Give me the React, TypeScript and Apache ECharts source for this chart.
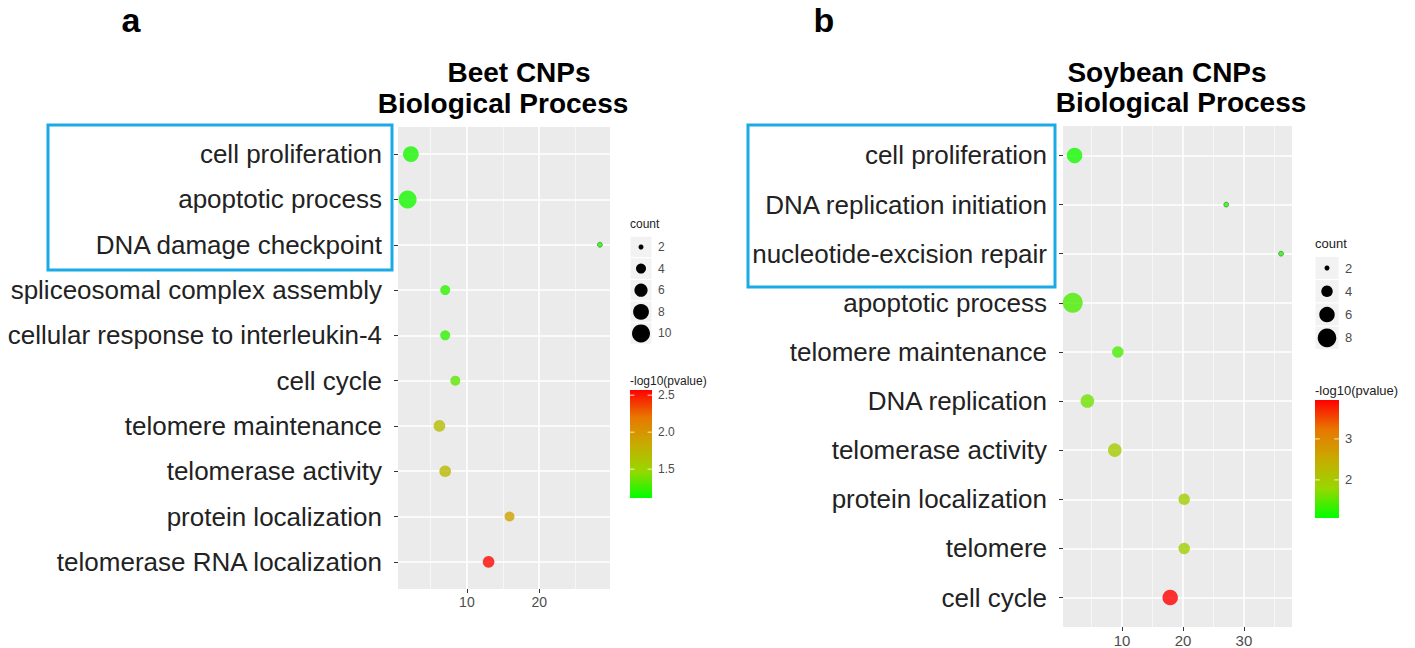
import React, { useEffect, useRef } from "react";
import * as echarts from "echarts";

// ---------- data ----------
const beetTerms = [
  "cell proliferation",
  "apoptotic process",
  "DNA damage checkpoint",
  "spliceosomal complex assembly",
  "cellular response to interleukin-4",
  "cell cycle",
  "telomere maintenance",
  "telomerase activity",
  "protein localization",
  "telomerase RNA localization",
];
const beetX = [2.25, 1.8, 28.4, 7.0, 7.0, 8.4, 6.2, 7.0, 15.9, 13.0];
const beetCount = [8, 10, 2, 4, 4, 4, 5, 5, 4, 5];
const beetLogP = [1.17, 1.16, 1.2, 1.22, 1.22, 1.33, 1.69, 1.72, 1.91, 2.55];

const soyTerms = [
  "cell proliferation",
  "DNA replication initiation",
  "nucleotide-excision repair",
  "apoptotic process",
  "telomere maintenance",
  "DNA replication",
  "telomerase activity",
  "protein localization",
  "telomere",
  "cell cycle",
];
const soyX = [2.2, 27.1, 36.1, 1.9, 9.3, 4.3, 8.8, 20.2, 20.2, 17.9];
const soyCount = [6, 2, 2, 9, 4, 5, 5, 4, 4, 6];
const soyLogP = [1.15, 1.25, 1.25, 1.42, 1.42, 1.59, 1.99, 1.93, 1.93, 3.95];

const beetXTicks = [10, 20];
const beetXMinor = [5, 15, 25];
const soyXTicks = [10, 20, 30];
const soyXMinor = [5, 15, 25, 35];

const beetCountBreaks = [2, 4, 6, 8, 10];
const soyCountBreaks = [2, 4, 6, 8];
const beetColorBreaks = [1.5, 2.0, 2.5];
const soyColorBreaks = [2, 3];

const gradientStops = ["#00ff00", "#98d700", "#c8ab00", "#e87700", "#ff0000"];

const FONT = "Liberation Sans, Arial, sans-serif";

type Panel = {
  terms: string[];
  xs: number[];
  counts: number[];
  logp: number[];
  xTicks: number[];
  xMinor: number[];
  countBreaks: number[];
  colorBreaks: number[];
  colorRange: [number, number];
  countRange: [number, number];
  sizeRange: [number, number];
  xRange: [number, number];
  grid: { left: number; top: number; width: number; height: number };
  xLabelSize: number;
  leg: {
    x: number; titleY: number; keyY0: number; keyStep: number; keyW: number;
    barY: number; barW: number; barH: number; cTitleY: number; font: number; tFont: number;
  };
  letter: { text: string; x: number; y: number };
  titles: { text: string; x: number; y: number }[];
  box: { x: number; y: number; w: number; h: number };
};

const panels: Panel[] = [
  {
    terms: beetTerms, xs: beetX, counts: beetCount, logp: beetLogP,
    xTicks: beetXTicks, xMinor: beetXMinor,
    countBreaks: beetCountBreaks, colorBreaks: beetColorBreaks,
    colorRange: [1.11, 2.57], countRange: [2, 10], sizeRange: [5, 18],
    xRange: [0.47, 29.8],
    grid: { left: 398, top: 127, width: 212, height: 462 },
    xLabelSize: 14,
    leg: { x: 630, titleY: 224, keyY0: 247, keyStep: 21.6, keyW: 22, barY: 390, barW: 22, barH: 108, cTitleY: 381, font: 12, tFont: 12 },
    letter: { text: "a", x: 131, y: 20 },
    titles: [
      { text: "Beet CNPs", x: 519, y: 72 },
      { text: "Biological Process", x: 503, y: 103 },
    ],
    box: { x: 48, y: 125, w: 344, h: 145 },
  },
  {
    terms: soyTerms, xs: soyX, counts: soyCount, logp: soyLogP,
    xTicks: soyXTicks, xMinor: soyXMinor,
    countBreaks: soyCountBreaks, colorBreaks: soyColorBreaks,
    colorRange: [1.07, 3.95], countRange: [2, 9], sizeRange: [5, 20],
    xRange: [0.3, 37.9],
    grid: { left: 1063, top: 126, width: 229, height: 502 },
    xLabelSize: 15,
    leg: { x: 1315, titleY: 243, keyY0: 268, keyStep: 23.3, keyW: 24, barY: 400, barW: 24, barH: 118, cTitleY: 390, font: 13, tFont: 13 },
    letter: { text: "b", x: 824, y: 20 },
    titles: [
      { text: "Soybean CNPs", x: 1167, y: 72 },
      { text: "Biological Process", x: 1181, y: 102 },
    ],
    box: { x: 748, y: 125, w: 307, h: 162 },
  },
];

function sizeFn(p: Panel) {
  const [c0, c1] = p.countRange;
  const [d0, d1] = p.sizeRange;
  return (c: number) => Math.sqrt(d0 * d0 + ((d1 * d1 - d0 * d0) * (c - c0)) / (c1 - c0));
}

function buildOption() {
  const grids: any[] = [];
  const xAxes: any[] = [];
  const yAxes: any[] = [];
  const series: any[] = [];
  const visualMaps: any[] = [];
  const graphics: any[] = [];

  panels.forEach((p, pi) => {
    const rows = p.terms.map((_, i) => i + 1);
    const size = sizeFn(p);
    grids.push({
      ...p.grid,
      show: true,
      backgroundColor: "#ebebeb",
      borderWidth: 0,
      containLabel: false,
    });
    xAxes.push({
      type: "value",
      gridIndex: pi,
      min: p.xRange[0],
      max: p.xRange[1],
      splitLine: { show: false },
      axisLine: { show: false },
      axisTick: { show: true, length: 4, customValues: p.xTicks, lineStyle: { color: "#333", width: 1 } },
      axisLabel: {
        customValues: p.xTicks,
        fontSize: p.xLabelSize,
        color: "#4d4d4d",
        margin: 6,
        fontFamily: FONT,
      },
    });
    yAxes.push({
      type: "value",
      gridIndex: pi,
      inverse: true,
      min: 0.4,
      max: 10.6,
      splitLine: { show: false },
      axisLine: { show: false },
      axisTick: { show: true, length: 4, customValues: rows, lineStyle: { color: "#333", width: 1 } },
      axisLabel: {
        customValues: rows,
        formatter: (v: number) => p.terms[Math.round(v) - 1] ?? "",
        fontSize: 26,
        color: "#222",
        margin: 16,
        fontFamily: FONT,
      },
    });
    // grid lines (white, ggplot style)
    series.push({
      type: "scatter",
      xAxisIndex: pi,
      yAxisIndex: pi,
      z: 1,
      silent: true,
      data: [],
      markLine: {
        z: 1,
        silent: true,
        symbol: "none",
        animation: false,
        label: { show: false },
        emphasis: { disabled: true },
        lineStyle: { color: "#ffffff", type: "solid" },
        data: [
          ...p.xMinor.map((v) => ({ xAxis: v, lineStyle: { color: "#fafafa", width: 0.8, type: "solid" } })),
          ...p.xTicks.map((v) => ({ xAxis: v, lineStyle: { color: "#ffffff", width: 1.6, type: "solid" } })),
          ...rows.map((v) => ({ yAxis: v, lineStyle: { color: "#ffffff", width: 1.6, type: "solid" } })),
        ],
      },
    });
    series.push({
      type: "scatter",
      xAxisIndex: pi,
      yAxisIndex: pi,
      z: 10,
      symbol: "circle",
      symbolSize: (v: number[]) => size(v[2]),
      data: p.terms.map((t, i) => ({
        name: t,
        value: [p.xs[i], i + 1, p.counts[i], p.logp[i]],
        itemStyle:
          p.counts[i] <= 2
            ? { borderColor: "rgba(0,90,0,0.55)", borderWidth: 1 }
            : { borderWidth: 0 },
      })),
    });
    visualMaps.push({
      type: "continuous",
      show: false,
      seriesIndex: series.length - 1,
      dimension: 3,
      min: p.colorRange[0],
      max: p.colorRange[1],
      inRange: { color: gradientStops },
    });

    // letter & titles
    graphics.push({
      type: "text",
      x: p.letter.x,
      y: p.letter.y,
      style: {
        text: p.letter.text,
        fontSize: 34,
        fontWeight: "bold",
        fontFamily: FONT,
        fill: "#000",
        align: "center",
        verticalAlign: "middle",
      },
    });
    p.titles.forEach((t) =>
      graphics.push({
        type: "text",
        x: t.x,
        y: t.y,
        style: {
          text: t.text,
          fontSize: 28,
          fontWeight: "bold",
          fontFamily: FONT,
          fill: "#000",
          align: "center",
          verticalAlign: "middle",
        },
      })
    );
    // blue highlight box
    graphics.push({
      type: "rect",
      shape: { x: p.box.x, y: p.box.y, width: p.box.w, height: p.box.h },
      style: { fill: "none", stroke: "#1aaae6", lineWidth: 3 },
      z: 10,
    });

    // size legend
    const L = p.leg;
    graphics.push({
      type: "text",
      x: L.x,
      y: L.titleY,
      style: { text: "count", fontSize: L.tFont, fontFamily: FONT, fill: "#222", align: "left", verticalAlign: "middle" },
    });
    p.countBreaks.forEach((c, k) => {
      const cy = L.keyY0 + k * L.keyStep;
      graphics.push({
        type: "rect",
        shape: { x: L.x, y: cy - L.keyStep / 2, width: L.keyW, height: L.keyStep },
        style: { fill: "#f2f2f2", stroke: "#ffffff", lineWidth: 1 },
      });
      graphics.push({
        type: "circle",
        shape: { cx: L.x + L.keyW / 2, cy, r: size(c) / 2 },
        style: { fill: "#000" },
      });
      graphics.push({
        type: "text",
        x: L.x + L.keyW + 6,
        y: cy,
        style: { text: String(c), fontSize: L.font, fontFamily: FONT, fill: "#4d4d4d", align: "left", verticalAlign: "middle" },
      });
    });

    // colour bar
    graphics.push({
      type: "text",
      x: L.x,
      y: L.cTitleY,
      style: { text: "-log10(pvalue)", fontSize: L.tFont, fontFamily: FONT, fill: "#222", align: "left", verticalAlign: "middle" },
    });
    const stops = gradientStops
      .slice()
      .reverse()
      .map((c, k) => ({ offset: k / (gradientStops.length - 1), color: c }));
    graphics.push({
      type: "rect",
      shape: { x: L.x, y: L.barY, width: L.barW, height: L.barH },
      style: {
        fill: new echarts.graphic.LinearGradient(0, 0, 0, 1, stops),
      },
    });
    const [lo, hi] = p.colorRange;
    p.colorBreaks.forEach((v) => {
      const y = L.barY + ((hi - v) / (hi - lo)) * L.barH;
      graphics.push({
        type: "line",
        shape: { x1: L.x, y1: y, x2: L.x + L.barW / 5, y2: y },
        style: { stroke: "rgba(255,255,255,0.8)", lineWidth: 1 },
      });
      graphics.push({
        type: "line",
        shape: { x1: L.x + (L.barW * 4) / 5, y1: y, x2: L.x + L.barW, y2: y },
        style: { stroke: "rgba(255,255,255,0.8)", lineWidth: 1 },
      });
      graphics.push({
        type: "text",
        x: L.x + L.barW + 6,
        y,
        style: {
          text: p.colorBreaks.every((b) => Number.isInteger(b)) ? String(v) : v.toFixed(1),
          fontSize: L.font,
          fontFamily: FONT,
          fill: "#4d4d4d",
          align: "left",
          verticalAlign: "middle",
        },
      });
    });
  });

  return {
    animation: false,
    backgroundColor: "#ffffff",
    textStyle: { fontFamily: FONT },
    grid: grids,
    xAxis: xAxes,
    yAxis: yAxes,
    visualMap: visualMaps,
    series,
    graphic: graphics,
  };
}

export default function App() {
  const ref = useRef<HTMLDivElement>(null);
  useEffect(() => {
    if (!ref.current) return;
    const chart = echarts.init(ref.current, undefined, { renderer: "svg" });
    chart.setOption(buildOption() as any);
    return () => chart.dispose();
  }, []);
  return (
    <div
      ref={ref}
      style={{ position: "absolute", left: 0, top: 0, width: 1415, height: 648, background: "#fff" }}
    />
  );
}
